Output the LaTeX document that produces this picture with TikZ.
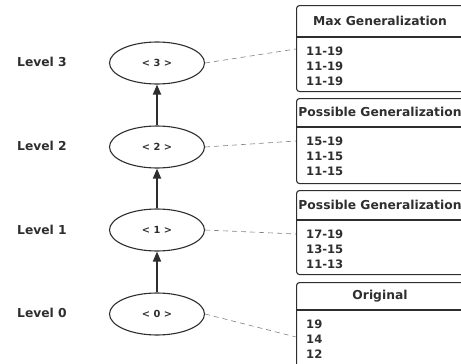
\documentclass[tikz,border=0pt]{standalone}
\usepackage{fontspec}
\setmainfont{DejaVu Sans}
\usepackage{tikz}
\usetikzlibrary{positioning,shapes,arrows.meta}
\definecolor{dark}{HTML}{2E2E2E}

\begin{document}
\begin{tikzpicture}[
                x=1pt, y=-1pt,
                level/.style={ellipse, draw=dark, line width=1.1pt, minimum width=95pt, minimum height=42pt, inner sep=0pt, text=dark, font=\bfseries\fontsize{9.8}{12}\selectfont},
                levellabel/.style={text=dark, inner sep=0pt, font=\bfseries\fontsize{12.3}{15}\selectfont},
                genbox/.style={draw=dark, line width=1.1pt, rounded corners=3pt, minimum width=168pt, anchor=north west, inner sep=0pt},
                header/.style={text=dark, inner sep=0pt, font=\bfseries\fontsize{12.3}{15}\selectfont},
                rows/.style={text=dark, anchor=north west, align=left, inner sep=0pt, font=\bfseries\fontsize{11.6}{15}\selectfont},
                link/.style={draw=gray, line width=0.6pt, dash pattern=on 5pt off 4pt}
            ]
            \useasboundingbox (0,0) rectangle (461,364);
            \clip (0,0) rectangle (461,364);

            \node[level] (L3) at (157,63) {< 3 >};
            \node[level] (L2) at (157,147) {< 2 >};
            \node[level] (L1) at (157,230) {< 1 >};
            \node[level] (L0) at (157,314) {< 0 >};

            \node[levellabel] (Level3) at (42,62) {Level 3};
            \node[levellabel] (Level2) at (42,146) {Level 2};
            \node[levellabel] (Level1) at (42,230) {Level 1};
            \node[levellabel] (Level0) at (42,313) {Level 0};

            \node[genbox, minimum height=86pt] (Box3) at (296,5) {};
            \node[genbox, minimum height=85pt] (Box2) at (296,98) {};
            \node[genbox, minimum height=84pt] (Box1) at (296,190) {};
            \node[genbox, minimum height=90pt] (Box0) at (296,282) {};

            \draw[draw=dark, line width=1.1pt] (Box3.west |- 0,37) -- (Box3.east |- 0,37);
            \draw[draw=dark, line width=1.1pt] (Box2.west |- 0,127) -- (Box2.east |- 0,127);
            \draw[draw=dark, line width=1.1pt] (Box1.west |- 0,220) -- (Box1.east |- 0,220);
            \draw[draw=dark, line width=1.1pt] (Box0.west |- 0,310) -- (Box0.east |- 0,310);

            \node[header] (Head3) at (380,21) {Max Generalization};
            \node[header] (Head2) at (380,112) {Possible Generalization};
            \node[header] (Head1) at (380,205) {Possible Generalization};
            \node[header] (Head0) at (380,296) {Original};

            \node[rows] (Rows3) at (306,47) {11-19\\11-19\\11-19};
            \node[rows] (Rows2) at (306,137) {15-19\\11-15\\11-15};
            \node[rows] (Rows1) at (306,230) {17-19\\13-15\\11-13};
            \node[rows] (Rows0) at (306,320) {19\\14\\12};

            \coordinate (C3) at (296,49);
            \coordinate (C2) at (296,141);
            \coordinate (C1) at (296,234);
            \coordinate (C0) at (296,337);

            \draw (L0) edge[-{Triangle[length=10pt, width=8pt]}, draw=dark, line width=1.8pt] (L1);
            \draw (L1) edge[-{Triangle[length=10pt, width=8pt]}, draw=dark, line width=1.8pt] (L2);
            \draw (L2) edge[-{Triangle[length=10pt, width=8pt]}, draw=dark, line width=1.8pt] (L3);

            \draw[link] (L3.east) -- (C3);
            \draw[link] (L2.east) -- (C2);
            \draw[link] (L1.east) -- (C1);
            \draw[link] (L0.east) -- (C0);
        \end{tikzpicture}
\end{document}
